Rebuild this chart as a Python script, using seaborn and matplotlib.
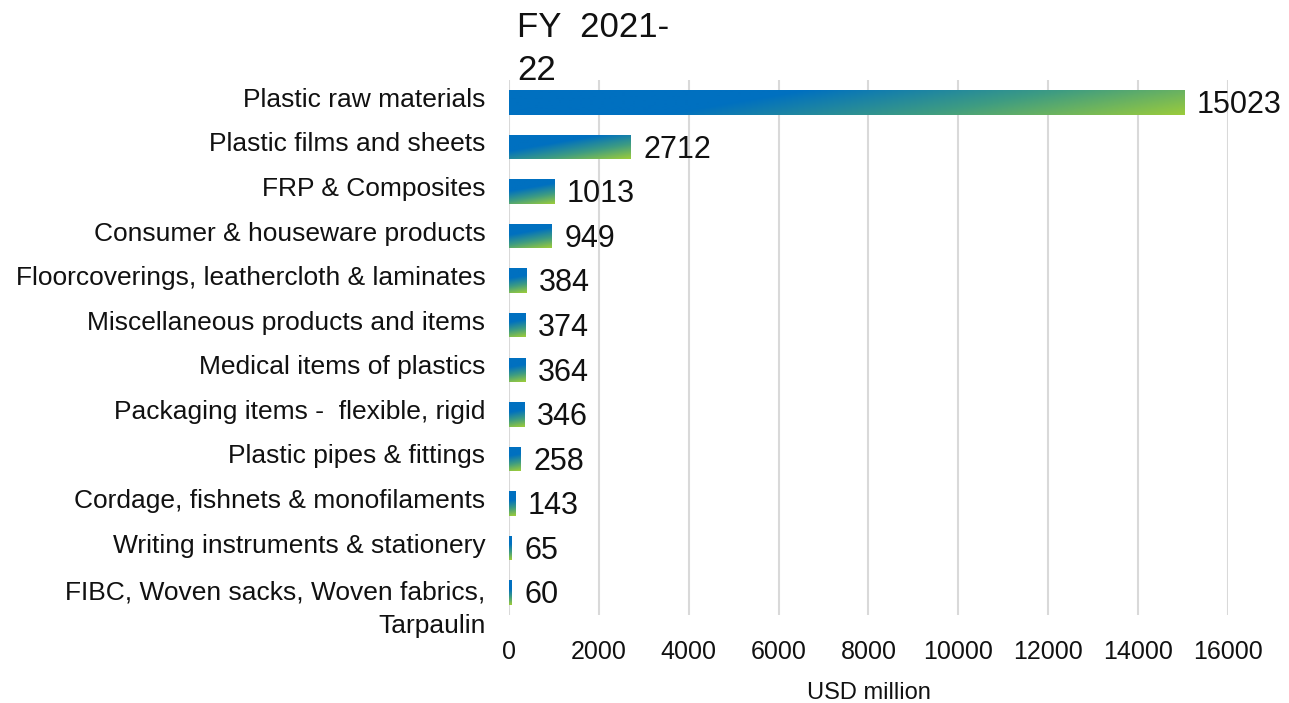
import matplotlib
matplotlib.use("Agg")
import matplotlib.pyplot as plt
import matplotlib.transforms as mtransforms
import numpy as np
import pandas as pd
import seaborn as sns
from matplotlib.colors import LinearSegmentedColormap

categories = [
    "Plastic raw materials",
    "Plastic films and sheets",
    "FRP & Composites",
    "Consumer & houseware products",
    "Floorcoverings, leathercloth & laminates",
    "Miscellaneous products and items",
    "Medical items of plastics",
    "Packaging items -  flexible, rigid",
    "Plastic pipes & fittings",
    "Cordage, fishnets & monofilaments",
    "Writing instruments & stationery",
    "FIBC, Woven sacks, Woven fabrics,\nTarpaulin",
]
exports_usd_mn = [15023, 2712, 1013, 949, 384, 374, 364, 346, 258, 143, 65, 60]
title = "FY  2021-\n22"
x_ticks = [0, 2000, 4000, 6000, 8000, 10000, 12000, 14000, 16000]

df = pd.DataFrame({"category": categories, "value": exports_usd_mn})

sns.set_theme(style="white")
plt.rcParams["font.family"] = ["Liberation Sans", "DejaVu Sans"]
txt = "#111111"

fig = plt.figure(figsize=(12.89, 7.03), dpi=100)
ax = fig.add_axes([509 / 1289, 1 - 615 / 703, (1228 - 509) / 1289, (615 - 80) / 703])

sns.barplot(data=df, x="value", y="category", orient="h", width=0.55,
            color="#0070C0", ax=ax, zorder=2)

ax.set_xlim(0, 16000)
ax.set_ylim(len(categories) - 0.5, -0.5)
ax.set_xticks(x_ticks)
ax.set_xticklabels([str(t) for t in x_ticks], fontsize=18, color=txt)
ax.tick_params(axis="x", length=0, pad=18)
ax.tick_params(axis="y", length=0, pad=17, labelsize=19, labelcolor=txt)
ax.set_ylabel("")
ax.set_xlabel("USD million", fontsize=17, labelpad=13, color=txt)
for s in ax.spines.values():
    s.set_visible(False)
ax.grid(axis="x", color="#D9D9D9", linewidth=1.5, zorder=0)
ax.set_axisbelow(True)

# gradient fill, blue -> green, slanted
cmap = LinearSegmentedColormap.from_list(
    "bg", [(0, "#0070C0"), (0.36, "#0070C0"), (0.68, "#3E9C82"), (1, "#9ACB3C")])
theta = np.deg2rad(80)
fig.canvas.draw()
for p in ax.patches:
    x0, y0 = p.get_x(), p.get_y()
    w, h = p.get_width(), p.get_height()
    (px0, py0), (px1, py1) = ax.transData.transform([(x0, y0), (x0 + w, y0 + h)])
    W, H = abs(px1 - px0), abs(py1 - py0)
    nx, ny = max(int(W), 2), max(int(H), 2)
    X, Y = np.meshgrid(np.linspace(0, W, nx), np.linspace(0, H, ny))
    t = (X * np.cos(theta) + Y * np.sin(theta)) / (W * np.cos(theta) + H * np.sin(theta))
    im = ax.imshow(t, cmap=cmap, vmin=0, vmax=1, aspect="auto",
                   extent=(x0, x0 + w, y0 + h, y0), origin="upper",
                   interpolation="bilinear", zorder=2)
    im.set_clip_path(p)
    p.set_facecolor("none")
    p.set_edgecolor("none")

for i, v in enumerate(exports_usd_mn):
    ax.annotate(str(v), xy=(v, i), xytext=(9, -2), textcoords="offset points",
                va="center", ha="left", fontsize=22, color=txt)

ax.set_xlim(0, 16000)
ax.set_ylim(len(categories) - 0.5, -0.5)

# category labels sit a little above the bar centres
labels = ax.get_yticklabels()
for lab in labels[:-1]:
    lab.set_transform(lab.get_transform() +
                      mtransforms.ScaledTranslation(0, 0.05, fig.dpi_scale_trans))
# two-line last label: first line level with the bar, second hangs below
last = labels[-1]
last.set_linespacing(1.5)
last.set_transform(last.get_transform() +
                   mtransforms.ScaledTranslation(0, -0.09, fig.dpi_scale_trans))

fig.text(517 / 1289, 1 - 80 / 703, title, fontsize=25, va="baseline",
         ha="left", linespacing=1.38, color=txt)

fig.savefig("out.png", dpi=100)
